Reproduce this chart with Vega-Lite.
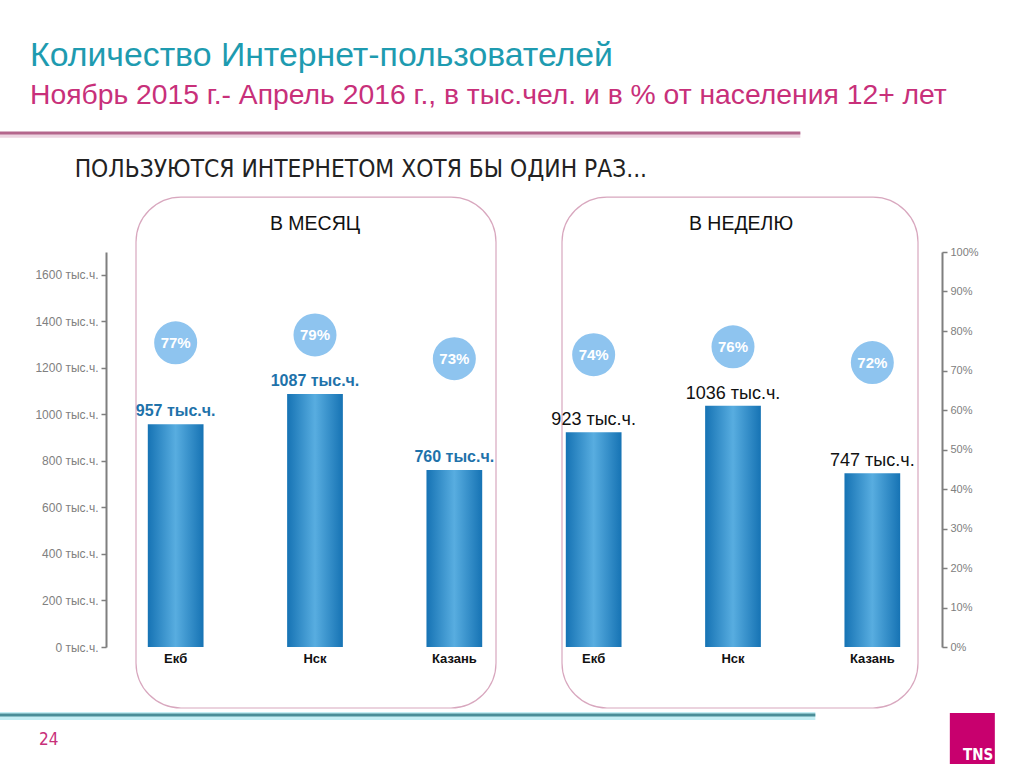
{
  "$schema": "https://vega.github.io/schema/vega-lite/v6.json",
  "width": 836,
  "height": 395,
  "autosize": {"type": "none"},
  "padding": {"left": 106, "top": 252, "right": 82, "bottom": 121},
  "background": "#ffffff",
  "config": {
    "view": {"stroke": null},
    "font": "Liberation Sans",
    "axis": {"grid": false, "title": null},
    "axisLeft": {"domainColor": "#7F7F7F", "domainWidth": 2, "tickColor": "#7F7F7F", "tickSize": 5, "tickWidth": 1.5, "labelColor": "#808080", "labelFontSize": 12, "labelPadding": 3, "tickCount": 20},
    "axisRight": {"domainColor": "#7F7F7F", "domainWidth": 2, "tickColor": "#7F7F7F", "tickSize": 5, "tickWidth": 1.5, "labelColor": "#808080", "labelFontSize": 11, "labelPadding": 3, "tickCount": 20},
    "axisBottom": {"domain": false, "ticks": false, "labelAngle": 0, "labelAlign": "center", "labelBaseline": "top", "labelFontWeight": "bold", "labelFontSize": 13, "labelColor": "#111111", "labelPadding": 5}
  },
  "title": {
    "text": "Количество Интернет-пользователей",
    "subtitle": "Ноябрь 2015 г.- Апрель 2016 г., в тыс.чел. и в % от населения 12+ лет",
    "anchor": "start",
    "frame": "group",
    "dx": -76,
    "offset": 22,
    "font": "Liberation Sans",
    "fontSize": 33.8,
    "fontWeight": "normal",
    "color": "#1E9BB0",
    "subtitleFont": "Liberation Sans",
    "subtitleFontSize": 28.3,
    "subtitleColor": "#C8307A",
    "subtitlePadding": 9
  },
  "datasets": {
    "cities": [
      {"key": "Екб|m", "city": "Екб", "period": "месяц", "users": 957, "share": 0.77, "label": "957 тыс.ч."},
      {"key": "Нск|m", "city": "Нск", "period": "месяц", "users": 1087, "share": 0.79, "label": "1087 тыс.ч."},
      {"key": "Казань|m", "city": "Казань", "period": "месяц", "users": 760, "share": 0.73, "label": "760 тыс.ч."},
      {"key": "Екб|w", "city": "Екб", "period": "неделя", "users": 923, "share": 0.74, "label": "923 тыс.ч."},
      {"key": "Нск|w", "city": "Нск", "period": "неделя", "users": 1036, "share": 0.76, "label": "1036 тыс.ч."},
      {"key": "Казань|w", "city": "Казань", "period": "неделя", "users": 747, "share": 0.72, "label": "747 тыс.ч."}
    ]
  },
  "data": {"name": "cities"},
  "layer": [
    {
      "layer": [
        {
          "mark": {
            "type": "bar",
            "color": {
              "gradient": "linear", "x1": 0, "y1": 0, "x2": 1, "y2": 0,
              "stops": [
                {"offset": 0, "color": "#1673B4"},
                {"offset": 0.5, "color": "#58ADE0"},
                {"offset": 1, "color": "#1673B4"}
              ]
            }
          },
          "encoding": {
            "x": {
              "field": "key", "type": "nominal", "sort": null,
              "scale": {"domain": ["Екб|m", "Нск|m", "Казань|m", "Екб|w", "Нск|w", "Казань|w"], "paddingInner": 0.6, "paddingOuter": 0.3},
              "axis": {"orient": "bottom", "title": null, "labelAngle": 0, "labelAlign": "center", "labelExpr": "split(datum.label, '|')[0]"}
            },
            "y": {
              "field": "users", "type": "quantitative",
              "scale": {"domain": [0, 1697], "nice": false},
              "axis": {"orient": "left", "values": [0, 200, 400, 600, 800, 1000, 1200, 1400, 1600], "tickCount": 20, "labelExpr": "datum.value + ' тыс.ч.'", "title": null}
            }
          }
        },
        {
          "data": {"values": [{}]},
          "mark": {"type": "rule", "color": "#EDD5E1", "strokeWidth": 5, "xOffset": -176, "x2Offset": -72},
          "encoding": {
            "x": {"datum": "Екб|m", "type": "nominal", "scale": {"domain": ["Екб|m", "Нск|m", "Казань|m", "Екб|w", "Нск|w", "Казань|w"], "paddingInner": 0.6, "paddingOuter": 0.3}},
            "x2": {"datum": "Казань|w"},
            "y": {"datum": 2199, "type": "quantitative", "scale": {"domain": [0, 1697], "nice": false}}
          }
        },
        {
          "data": {"values": [{}]},
          "mark": {"type": "rule", "color": "#B4668C", "strokeWidth": 3, "xOffset": -176, "x2Offset": -72},
          "encoding": {
            "x": {"datum": "Екб|m", "type": "nominal", "scale": {"domain": ["Екб|m", "Нск|m", "Казань|m", "Екб|w", "Нск|w", "Казань|w"], "paddingInner": 0.6, "paddingOuter": 0.3}},
            "x2": {"datum": "Казань|w"},
            "y": {"datum": 2208, "type": "quantitative", "scale": {"domain": [0, 1697], "nice": false}}
          }
        },
        {
          "data": {"values": [{}]},
          "mark": {"type": "text", "text": "ПОЛЬЗУЮТСЯ ИНТЕРНЕТОМ ХОТЯ БЫ ОДИН РАЗ...", "font": "DejaVu Sans Condensed, Liberation Sans", "fontSize": 24.3, "color": "#222222", "align": "left", "baseline": "middle", "xOffset": -101},
          "encoding": {
            "x": {"datum": "Екб|m", "type": "nominal", "scale": {"domain": ["Екб|m", "Нск|m", "Казань|m", "Екб|w", "Нск|w", "Казань|w"], "paddingInner": 0.6, "paddingOuter": 0.3}},
            "y": {"datum": 2049, "type": "quantitative", "scale": {"domain": [0, 1697], "nice": false}}
          }
        },
        {
          "data": {"values": [{}]},
          "mark": {"type": "bar", "filled": false, "color": "#D8A7BE", "strokeWidth": 1.2, "cornerRadius": 45, "width": 360, "xOffset": 1},
          "encoding": {
            "x": {"datum": "Нск|m", "type": "nominal", "scale": {"domain": ["Екб|m", "Нск|m", "Казань|m", "Екб|w", "Нск|w", "Казань|w"], "paddingInner": 0.6, "paddingOuter": 0.3}},
            "y": {"datum": 1933, "type": "quantitative", "scale": {"domain": [0, 1697], "nice": false}},
            "y2": {"datum": -262}
          }
        },
        {
          "data": {"values": [{}]},
          "mark": {"type": "bar", "filled": false, "color": "#D8A7BE", "strokeWidth": 1.2, "cornerRadius": 45, "width": 356, "xOffset": 7},
          "encoding": {
            "x": {"datum": "Нск|w", "type": "nominal", "scale": {"domain": ["Екб|m", "Нск|m", "Казань|m", "Екб|w", "Нск|w", "Казань|w"], "paddingInner": 0.6, "paddingOuter": 0.3}},
            "y": {"datum": 1933, "type": "quantitative", "scale": {"domain": [0, 1697], "nice": false}},
            "y2": {"datum": -262}
          }
        },
        {
          "data": {"values": [{}]},
          "mark": {"type": "text", "text": "В МЕСЯЦ", "fontSize": 19.5, "color": "#111111", "baseline": "middle"},
          "encoding": {
            "x": {"datum": "Нск|m", "type": "nominal", "scale": {"domain": ["Екб|m", "Нск|m", "Казань|m", "Екб|w", "Нск|w", "Казань|w"], "paddingInner": 0.6, "paddingOuter": 0.3}},
            "y": {"datum": 1817, "type": "quantitative", "scale": {"domain": [0, 1697], "nice": false}}
          }
        },
        {
          "data": {"values": [{}]},
          "mark": {"type": "text", "text": "В НЕДЕЛЮ", "fontSize": 19.5, "color": "#111111", "baseline": "middle", "xOffset": 8},
          "encoding": {
            "x": {"datum": "Нск|w", "type": "nominal", "scale": {"domain": ["Екб|m", "Нск|m", "Казань|m", "Екб|w", "Нск|w", "Казань|w"], "paddingInner": 0.6, "paddingOuter": 0.3}},
            "y": {"datum": 1817, "type": "quantitative", "scale": {"domain": [0, 1697], "nice": false}}
          }
        },
        {
          "transform": [{"filter": "datum.period == 'месяц'"}],
          "mark": {"type": "text", "fontSize": 16, "fontWeight": "bold", "color": "#1E72AA", "baseline": "alphabetic", "dy": -8},
          "encoding": {
            "x": {"field": "key", "type": "nominal", "sort": null, "scale": {"domain": ["Екб|m", "Нск|m", "Казань|m", "Екб|w", "Нск|w", "Казань|w"], "paddingInner": 0.6, "paddingOuter": 0.3}},
            "y": {"field": "users", "type": "quantitative", "scale": {"domain": [0, 1697], "nice": false}},
            "text": {"field": "label"}
          }
        },
        {
          "transform": [{"filter": "datum.period == 'неделя'"}],
          "mark": {"type": "text", "fontSize": 18, "color": "#111111", "baseline": "alphabetic", "dy": -7},
          "encoding": {
            "x": {"field": "key", "type": "nominal", "sort": null, "scale": {"domain": ["Екб|m", "Нск|m", "Казань|m", "Екб|w", "Нск|w", "Казань|w"], "paddingInner": 0.6, "paddingOuter": 0.3}},
            "y": {"field": "users", "type": "quantitative", "scale": {"domain": [0, 1697], "nice": false}},
            "text": {"field": "label"}
          }
        },
        {
          "data": {"values": [{}]},
          "mark": {"type": "rule", "color": "#C4EEF4", "strokeWidth": 8, "xOffset": -176, "x2Offset": -57},
          "encoding": {
            "x": {"datum": "Екб|m", "type": "nominal", "scale": {"domain": ["Екб|m", "Нск|m", "Казань|m", "Екб|w", "Нск|w", "Казань|w"], "paddingInner": 0.6, "paddingOuter": 0.3}},
            "x2": {"datum": "Казань|w"},
            "y": {"datum": -296, "type": "quantitative", "scale": {"domain": [0, 1697], "nice": false}}
          }
        },
        {
          "data": {"values": [{}]},
          "mark": {"type": "rule", "color": "#4A8E98", "strokeWidth": 3, "xOffset": -176, "x2Offset": -57},
          "encoding": {
            "x": {"datum": "Екб|m", "type": "nominal", "scale": {"domain": ["Екб|m", "Нск|m", "Казань|m", "Екб|w", "Нск|w", "Казань|w"], "paddingInner": 0.6, "paddingOuter": 0.3}},
            "x2": {"datum": "Казань|w"},
            "y": {"datum": -292, "type": "quantitative", "scale": {"domain": [0, 1697], "nice": false}}
          }
        },
        {
          "data": {"values": [{}]},
          "mark": {"type": "text", "text": "24", "font": "DejaVu Sans Condensed, Liberation Sans", "fontSize": 17, "color": "#C8307A", "baseline": "middle", "xOffset": -127},
          "encoding": {
            "x": {"datum": "Екб|m", "type": "nominal", "scale": {"domain": ["Екб|m", "Нск|m", "Казань|m", "Екб|w", "Нск|w", "Казань|w"], "paddingInner": 0.6, "paddingOuter": 0.3}},
            "y": {"datum": -400, "type": "quantitative", "scale": {"domain": [0, 1697], "nice": false}}
          }
        },
        {
          "data": {"values": [{}]},
          "mark": {"type": "bar", "color": "#C8006E", "width": 45, "xOffset": 100},
          "encoding": {
            "x": {"datum": "Казань|w", "type": "nominal", "scale": {"domain": ["Екб|m", "Нск|m", "Казань|m", "Екб|w", "Нск|w", "Казань|w"], "paddingInner": 0.6, "paddingOuter": 0.3}},
            "y": {"datum": -284, "type": "quantitative", "scale": {"domain": [0, 1697], "nice": false}},
            "y2": {"datum": -503}
          }
        },
        {
          "data": {"values": [{}]},
          "mark": {"type": "text", "text": "TNS", "font": "DejaVu Sans Condensed, Liberation Sans", "fontWeight": "bold", "fontSize": 15, "color": "#ffffff", "align": "right", "baseline": "alphabetic", "xOffset": 121},
          "encoding": {
            "x": {"datum": "Казань|w", "type": "nominal", "scale": {"domain": ["Екб|m", "Нск|m", "Казань|m", "Екб|w", "Нск|w", "Казань|w"], "paddingInner": 0.6, "paddingOuter": 0.3}},
            "y": {"datum": -485, "type": "quantitative", "scale": {"domain": [0, 1697], "nice": false}}
          }
        }
      ]
    },
    {
      "layer": [
        {
          "mark": {"type": "circle", "size": 1850, "color": "#8EC4EF", "opacity": 1},
          "encoding": {
            "x": {"field": "key", "type": "nominal", "sort": null, "scale": {"domain": ["Екб|m", "Нск|m", "Казань|m", "Екб|w", "Нск|w", "Казань|w"], "paddingInner": 0.6, "paddingOuter": 0.3}},
            "y": {
              "field": "share", "type": "quantitative",
              "scale": {"domain": [0, 1], "nice": false},
              "axis": {"orient": "right", "values": [0, 0.1, 0.2, 0.3, 0.4, 0.5, 0.6, 0.7, 0.8, 0.9, 1], "tickCount": 20, "format": ".0%", "title": null}
            }
          }
        },
        {
          "mark": {"type": "text", "fontSize": 15, "fontWeight": "bold", "color": "#ffffff", "baseline": "middle"},
          "encoding": {
            "x": {"field": "key", "type": "nominal", "sort": null, "scale": {"domain": ["Екб|m", "Нск|m", "Казань|m", "Екб|w", "Нск|w", "Казань|w"], "paddingInner": 0.6, "paddingOuter": 0.3}},
            "y": {
              "field": "share", "type": "quantitative",
              "scale": {"domain": [0, 1], "nice": false},
              "axis": {"orient": "right", "values": [0, 0.1, 0.2, 0.3, 0.4, 0.5, 0.6, 0.7, 0.8, 0.9, 1], "tickCount": 20, "format": ".0%", "title": null}
            },
            "text": {"field": "share", "format": ".0%"}
          }
        }
      ]
    }
  ],
  "resolve": {"scale": {"y": "independent"}}
}
